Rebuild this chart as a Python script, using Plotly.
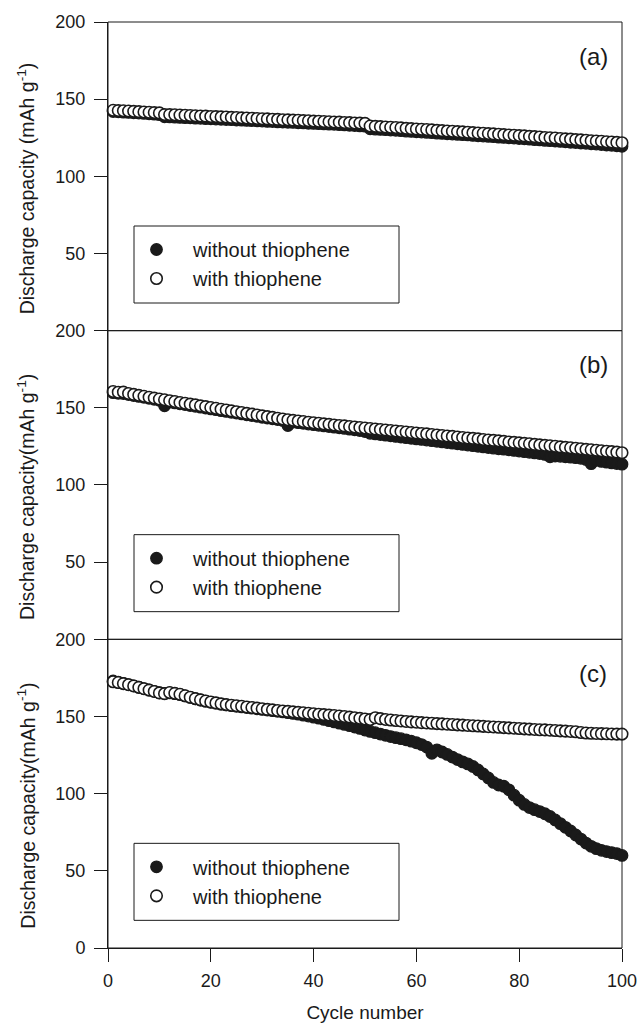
import plotly.graph_objects as go

cycles = list(range(1, 101))

# Panel (a)
a_without = [142.0, 141.8, 141.6, 141.4, 141.2, 141.0, 140.8, 140.5, 140.3, 140.0,
             138.6, 138.5, 138.3, 138.2, 138.0, 137.9, 137.7, 137.6, 137.4, 137.3,
             137.1, 137.0, 136.8, 136.7, 136.5, 136.4, 136.2, 136.1, 135.9, 135.8,
             135.6, 135.5, 135.3, 135.2, 135.0, 134.9, 134.7, 134.6, 134.4, 134.3,
             134.1, 134.0, 133.8, 133.7, 133.5, 133.3, 133.1, 132.9, 132.7, 132.5,
             130.8, 130.6, 130.4, 130.2, 130.0, 129.8, 129.6, 129.3, 129.1, 128.9,
             128.7, 128.5, 128.3, 128.0, 127.8, 127.6, 127.4, 127.2, 127.0, 126.8,
             126.5, 126.3, 126.1, 125.9, 125.7, 125.4, 125.2, 125.0, 124.8, 124.5,
             124.3, 124.1, 123.8, 123.6, 123.3, 123.1, 122.9, 122.6, 122.4, 122.1,
             121.9, 121.6, 121.4, 121.1, 120.9, 120.6, 120.3, 120.1, 119.8, 119.5]
a_with = [142.8, 142.6, 142.5, 142.3, 142.1, 141.9, 141.7, 141.5, 141.3, 141.1,
          140.0, 140.0, 139.9, 139.7, 139.6, 139.4, 139.3, 139.1, 139.0, 138.8,
          138.7, 138.5, 138.4, 138.2, 138.1, 137.9, 137.8, 137.6, 137.5, 137.3,
          137.2, 137.0, 136.9, 136.7, 136.6, 136.4, 136.3, 136.1, 136.0, 135.8,
          135.7, 135.5, 135.4, 135.2, 135.1, 134.9, 134.8, 134.6, 134.5, 134.3,
          132.6, 132.4, 132.2, 132.0, 131.8, 131.6, 131.4, 131.1, 130.9, 130.7,
          130.5, 130.3, 130.1, 129.8, 129.6, 129.4, 129.2, 129.0, 128.8, 128.6,
          128.3, 128.1, 127.9, 127.7, 127.5, 127.3, 127.0, 126.8, 126.6, 126.4,
          126.2, 125.9, 125.7, 125.5, 125.2, 125.0, 124.8, 124.5, 124.3, 124.1,
          123.8, 123.6, 123.4, 123.1, 122.9, 122.7, 122.4, 122.2, 122.0, 121.8]

# Panel (b)
b_without = [159.8, 159.4, 159.3, 158.6, 158.0, 157.4, 156.8, 156.2, 155.5, 154.9,
             151.3, 153.7, 153.2, 152.6, 152.1, 151.5, 151.0, 150.4, 149.9, 149.3,
             148.8, 148.2, 147.7, 147.1, 146.6, 146.1, 145.5, 145.0, 144.5, 143.9,
             143.4, 142.9, 142.4, 141.8, 138.5, 140.8, 140.4, 140.0, 139.5, 139.1,
             138.7, 138.3, 137.9, 137.5, 137.1, 136.7, 136.2, 135.8, 135.3, 134.6,
             133.5, 133.1, 132.7, 132.3, 131.9, 131.5, 131.1, 130.7, 130.3, 129.9,
             129.5, 129.1, 128.7, 128.3, 127.9, 127.5, 127.1, 126.7, 126.3, 125.9,
             125.5, 125.1, 124.7, 124.3, 123.9, 123.5, 123.2, 122.8, 122.4, 122.0,
             121.6, 121.2, 120.8, 120.4, 119.8, 118.3, 118.8, 118.6, 118.3, 118.0,
             117.7, 117.3, 116.5, 113.8, 116.0, 115.3, 114.8, 114.3, 113.9, 113.5]
b_with = [160.6, 160.1, 160.2, 159.3, 158.7, 158.1, 157.5, 156.9, 156.3, 155.7,
          155.2, 154.6, 154.1, 153.5, 153.0, 152.4, 151.9, 151.3, 150.8, 150.2,
          149.7, 149.1, 148.6, 148.0, 147.5, 147.0, 146.4, 145.9, 145.4, 144.8,
          144.3, 143.8, 143.3, 142.8, 142.3, 141.9, 141.5, 141.1, 140.7, 140.3,
          140.0, 139.6, 139.3, 138.9, 138.6, 138.3, 137.9, 137.6, 137.3, 136.9,
          136.6, 136.3, 136.0, 135.6, 135.3, 135.0, 134.7, 134.3, 134.0, 133.7,
          133.4, 133.1, 132.7, 132.4, 132.1, 131.8, 131.5, 131.1, 130.8, 130.5,
          130.2, 129.9, 129.5, 129.2, 128.9, 128.6, 128.3, 127.9, 127.6, 127.3,
          127.0, 126.7, 126.3, 126.0, 125.7, 125.4, 125.1, 124.7, 124.4, 124.1,
          123.8, 123.5, 123.1, 122.8, 122.5, 122.2, 121.9, 121.6, 121.3, 120.9]

# Panel (c)
c_without = [173.0, 172.2, 171.5, 170.7, 169.9, 169.0, 168.1, 167.2, 166.3, 165.4,
             164.9, 165.3, 164.8, 164.2, 163.3, 162.4, 161.5, 160.7, 159.9, 159.2,
             158.6, 158.0, 157.5, 157.0, 156.6, 156.2, 155.8, 155.4, 155.0, 154.6,
             154.2, 153.8, 153.4, 153.0, 152.5, 152.0, 151.5, 150.9, 150.3, 149.6,
             148.9, 148.1, 147.3, 146.5, 145.7, 144.9, 144.1, 143.2, 142.3, 141.2,
             140.3, 139.5, 138.6, 137.8, 137.0, 136.3, 135.6, 134.9, 134.0, 133.0,
             131.8, 130.2, 126.2, 128.4, 127.0, 125.4, 123.7, 122.1, 120.6, 119.3,
             117.6, 115.4, 112.8, 110.2, 107.3, 105.6, 104.8, 102.5, 99.0, 95.8,
             93.0, 91.0, 89.6, 88.4, 87.0, 85.2, 83.0, 80.6, 78.2, 75.8,
             73.2, 70.6, 68.0, 65.9, 64.4, 63.3, 62.5, 61.8, 61.2, 60.0]
c_with = [172.5, 172.0, 171.3, 170.6, 169.8, 168.9, 168.0, 167.1, 166.2, 165.3,
          164.8, 165.5, 165.0, 164.4, 163.4, 162.5, 161.6, 160.8, 160.0, 159.4,
          158.8, 158.2, 157.7, 157.3, 157.0, 156.6, 156.2, 155.8, 155.4, 155.0,
          154.6, 154.3, 153.9, 153.6, 153.3, 153.0, 152.7, 152.4, 152.1, 151.8,
          151.5, 151.2, 150.9, 150.6, 150.3, 150.0, 149.6, 149.2, 148.8, 148.4,
          148.0, 149.2, 148.6, 148.1, 147.7, 147.4, 147.1, 146.8, 146.5, 146.3,
          146.0, 145.8, 145.6, 145.4, 145.2, 145.0, 144.8, 144.6, 144.4, 144.2,
          144.0, 143.8, 143.6, 143.4, 143.2, 143.0, 142.8, 142.6, 142.4, 142.2,
          142.0, 141.8, 141.6, 141.4, 141.3, 141.1, 140.9, 140.7, 140.5, 140.3,
          140.1, 139.6, 139.3, 139.1, 139.0, 138.9, 138.8, 138.7, 138.6, 138.6]

x_ticks = [0, 20, 40, 60, 80, 100]
y_ticks_top = [50, 100, 150, 200]
y_ticks_bottom = [0, 50, 100, 150, 200]
series_names = ["without thiophene", "with thiophene"]
panel_labels = ["(a)", "(b)", "(c)"]
y_titles = ["Discharge capacity (mAh g<sup>-1</sup>)",
            "Discharge capacity(mAh g<sup>-1</sup>)",
            "Discharge capacity(mAh g<sup>-1</sup>)"]

FONT = "Liberation Sans, Arial, sans-serif"
INK = "#1a1a1a"

panels = [
    (a_without, a_with, "y3", "legend3"),
    (b_without, b_with, "y2", "legend2"),
    (c_without, c_with, "y", "legend"),
]

fig = go.Figure()
for wo, wi, yax, leg in panels:
    fig.add_trace(go.Scatter(
        x=cycles, y=wo, mode="markers", name=series_names[0], yaxis=yax, legend=leg,
        cliponaxis=False,
        marker=dict(symbol="circle", size=11.5, color=INK, line=dict(color=INK, width=1.3)),
    ))
    fig.add_trace(go.Scatter(
        x=cycles, y=wi, mode="markers", name=series_names[1], yaxis=yax, legend=leg,
        cliponaxis=False,
        marker=dict(symbol="circle", size=11.5, color="white", line=dict(color=INK, width=1.6)),
    ))

W, H = 637, 1023
ML, MR, MT, MB = 108, 15, 22, 75
pw = W - ML - MR
ph = H - MT - MB
panel_h = ph / 3.0

axis_common = dict(
    showline=True, linecolor=INK, linewidth=1, ticks="outside", ticklen=13,
    tickwidth=1, tickcolor=INK, showgrid=False, zeroline=False, automargin=False,
    tickfont=dict(family=FONT, size=18, color=INK), range=[0, 200],
    ticklabelstandoff=5,
)

fig.update_layout(
    width=W, height=H,
    margin=dict(l=ML, r=MR, t=MT, b=MB, pad=0, autoexpand=False),
    paper_bgcolor="white", plot_bgcolor="white",
    font=dict(family=FONT, size=18, color=INK),
    xaxis=dict(domain=[0, 1], range=[0, 100], tickvals=x_ticks, anchor="y",
               showline=True, linecolor=INK, linewidth=1, ticks="outside", ticklen=13,
               tickwidth=1, tickcolor=INK, showgrid=False, zeroline=False,
               ticklabeloverflow="allow", automargin=False, ticklabelstandoff=3,
               tickfont=dict(family=FONT, size=18, color=INK),
               title=dict(text="Cycle number", font=dict(family=FONT, size=19, color=INK), standoff=16)),
    yaxis=dict(domain=[0, 1/3], tickvals=y_ticks_bottom, anchor="x", **axis_common),
    yaxis2=dict(domain=[1/3, 2/3], tickvals=y_ticks_top, anchor="x", **axis_common),
    yaxis3=dict(domain=[2/3, 1], tickvals=y_ticks_top, anchor="x", **axis_common),
    showlegend=True,
)

legend_style = dict(
    bgcolor="rgba(0,0,0,0)", borderwidth=0, xanchor="left", yanchor="top",
    font=dict(family=FONT, size=20, color=INK), itemwidth=63, tracegroupgap=0,
    traceorder="normal",
)
leg_top_px = 208
leg_x = (120 - ML) / pw
for i, key in enumerate(["legend3", "legend2", "legend"]):
    top_px = MT + i * panel_h + leg_top_px
    fig.update_layout({key: dict(x=leg_x, y=(MT + ph - top_px) / ph, **legend_style)})

shapes = []
annotations = []
for i, yax in enumerate(["y3", "y2", "y"]):
    yd = yax + " domain"
    shapes.append(dict(type="rect", xref="x domain", yref=yd, x0=0, x1=1, y0=0, y1=1,
                       line=dict(color=INK, width=1), fillcolor="rgba(0,0,0,0)", layer="above"))
    shapes.append(dict(type="rect", xref="x domain", yref=yd,
                       x0=(134 - ML) / pw, x1=(399 - ML) / pw,
                       y0=1 - 281 / panel_h, y1=1 - 204 / panel_h,
                       line=dict(color=INK, width=1), fillcolor="rgba(0,0,0,0)", layer="above"))
    annotations.append(dict(text=panel_labels[i], xref="x domain", yref=yd,
                            x=(593 - ML) / pw, y=1 - 34 / panel_h, showarrow=False,
                            xanchor="center", yanchor="middle",
                            font=dict(family=FONT, size=24, color=INK)))
    annotations.append(dict(text=y_titles[i], xref="paper", yref=yd,
                            x=(26 - ML) / pw, y=0.5, yshift=-12, textangle=-90, showarrow=False,
                            xanchor="center", yanchor="middle",
                            font=dict(family=FONT, size=19.5, color=INK)))

fig.update_layout(shapes=shapes, annotations=annotations)
fig.write_html("out.html")
